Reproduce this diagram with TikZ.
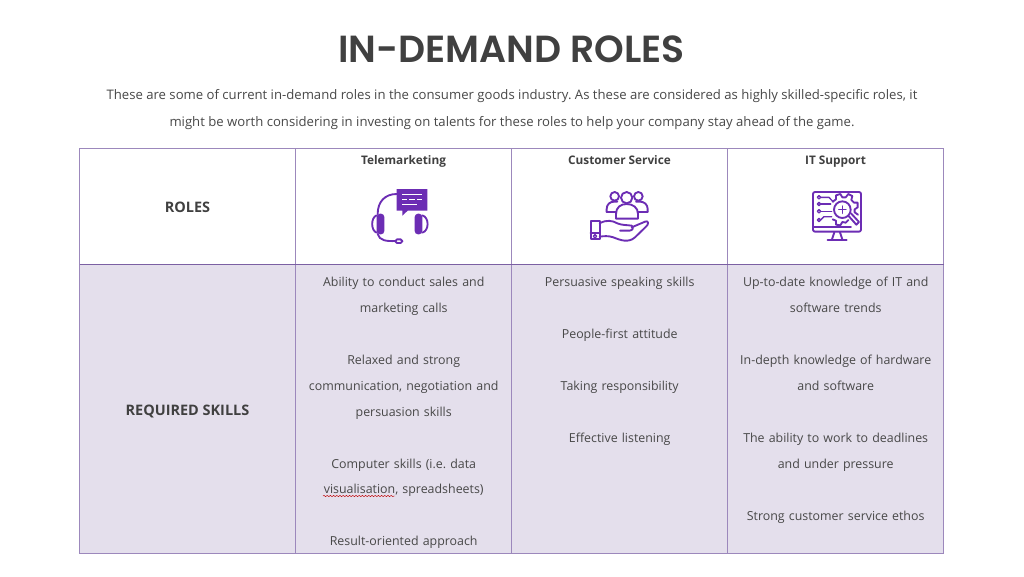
\documentclass[tikz,border=0pt]{standalone}
\usepackage{fontspec}
\setmainfont{Open Sans}
\newfontfamily\titlefont{Poppins SemiBold}[BoldFont={Poppins SemiBold}]
\usetikzlibrary{decorations.pathmorphing}
\definecolor{ink}{HTML}{484848}
\definecolor{titleink}{HTML}{404040}
\definecolor{rule}{HTML}{9C88BC}
\definecolor{hrule}{HTML}{7B60A3}
\definecolor{band}{HTML}{E4DFEC}
\definecolor{icon}{HTML}{6C2DB4}
\tikzset{
  cell/.style={inner sep=0pt,text=ink,font=\fontsize{9.3}{19.47}\selectfont,align=center,anchor=north,text width=150pt},
  bodyline/.style={inner sep=0pt,text=ink,font=\fontsize{9.85}{19.4}\selectfont,anchor=base},
  rowhead/.style={inner sep=0pt,text=titleink,font=\fontsize{10.85}{12}\selectfont\bfseries,anchor=base},
  colhead/.style={inner sep=0pt,text=titleink,font=\fontsize{8.85}{12}\selectfont\bfseries,anchor=base},
  ic/.style={draw=icon,line width=1.4pt,line cap=round,line join=round},
  icthin/.style={draw=icon,line width=1pt,line cap=round,line join=round},
  zoomA/.style={shift={(340,170)},x=0.25pt,y=-0.25pt},
  zoomB/.style={shift={(560,170)},x=0.25pt,y=-0.25pt},
  zoomC/.style={shift={(780,170)},x=0.25pt,y=-0.25pt}
}
\begin{document}
\frenchspacing
\begin{tikzpicture}[x=0.75pt,y=-0.75pt]
\useasboundingbox (0,0) rectangle (1024,576);
\fill[white] (0,0) rectangle (1024,576);
% table
\fill[band] (79.5,264) rectangle (943.5,553.5);
\draw[rule,line width=0.75pt] (79.5,148.5) rectangle (943.5,553.5);
\foreach \x in {295.5,511.5,727.5}{\draw[rule,line width=0.75pt] (\x,148.5) -- (\x,553.5);}
\draw[hrule,line width=0.75pt] (79.5,264) -- (943.5,264);
% title and intro
\node[inner sep=0pt,anchor=base,text=titleink,font=\fontsize{28.3}{30}\titlefont] (title) at (511.5,62) {IN-DEMAND ROLES};
\node[bodyline] (introa) at (512,99) {These are some of current in-demand roles in the consumer goods industry. As these are considered as highly skilled-specific roles, it};
\node[bodyline] (introb) at (512,126) {might be worth considering in investing on talents for these roles to help your company stay ahead of the game.};
% headers
\node[rowhead] (roles) at (187.5,212) {ROLES};
\node[rowhead] (skills) at (187.5,415) {REQUIRED SKILLS};
\node[colhead] (tele) at (403.5,164) {Telemarketing};
\node[colhead] (cust) at (619.5,164) {Customer Service};
\node[colhead] (its) at (835.5,164) {IT Support};
% cells
\node[cell] (c1) at (403.7,276.6) {Ability to conduct sales and\\marketing calls\\~\\Relaxed and strong\\communication, negotiation and\\persuasion skills\\~\\Computer skills (i.e. data\\visualisation, spreadsheets)\\~\\Result-oriented approach};
\node[cell] (c2) at (619.7,276.6) {Persuasive speaking skills\\~\\People-first attitude\\~\\Taking responsibility\\~\\Effective listening};
\node[cell] (c3) at (835.7,276.6) {Up-to-date knowledge of IT and\\software trends\\~\\In-depth knowledge of hardware\\and software\\~\\The ability to work to deadlines\\and under pressure\\~\\Strong customer service ethos};
% spell-check underline
\draw[red!75!black,line width=0.35pt,decorate,decoration={snake,amplitude=0.45pt,segment length=2.4pt}] (323,496) -- (395,496);
% icon 1: headset
\begin{scope}[zoomA]
\draw[ic] (113,132) .. controls (113,95) and (135,72) .. (170,72);
\fill[icon,rounded corners=2.5pt] (110,131) rectangle (133,193);
\fill[icon,rounded corners=2.5pt] (224,131) rectangle (247,193);
\draw[ic] (110,136) .. controls (92,142) and (92,182) .. (110,188);
\draw[ic] (247,136) .. controls (268,142) and (268,182) .. (247,188);
\draw[ic] (113,192) .. controls (118,212) and (140,214) .. (166,213);
\draw[ic,rounded corners=1.3pt,fill=white] (166,208) rectangle (187,219);
\fill[icon] (170,57) -- (262,57) -- (262,122) -- (203,122) -- (187,137) -- (187,122) -- (170,122) -- cycle;
\draw[white,line width=0.7pt] (186,74) -- (245,74);
\draw[white,line width=0.7pt,dash pattern=on 4pt off 1.5pt] (186,88) -- (245,88);
\draw[white,line width=0.7pt] (186,102) -- (232,102);
\end{scope}
% icon 2: hand and people
\begin{scope}[zoomB]
\draw[ic] (164,79) circle (13);
\draw[ic] (235,79) circle (13);
\draw[ic,fill=white] (200,83) circle (17);
\draw[ic] (140,125) -- (140,117) .. controls (140,103) and (150,95) .. (162,95) -- (172,95);
\draw[ic] (140,125) -- (168,125);
\draw[ic] (263,125) -- (263,117) .. controls (263,103) and (252,95) .. (240,95) -- (228,95);
\draw[ic] (263,125) -- (234,125);
\draw[ic] (168,146) -- (168,132) .. controls (168,112) and (182,102) .. (200,102) .. controls (218,102) and (234,112) .. (234,132) -- (234,146) -- cycle;
\draw[ic] (92,152) rectangle (119,208);
\draw[ic] (92,190) -- (119,190);
\draw[icthin] (105,199) circle (5);
\draw[ic] (119,160) .. controls (140,148) and (158,152) .. (172,160) .. controls (185,166) and (205,165) .. (215,167) .. controls (222,172) and (218,182) .. (208,182) -- (180,182);
\draw[ic] (215,172) -- (255,155) .. controls (265,150) and (268,162) .. (258,170) -- (225,202) .. controls (205,220) and (180,210) .. (160,202) .. controls (145,197) and (132,198) .. (119,200);
\end{scope}
% icon 3: monitor
\begin{scope}[zoomC]
\draw[ic,rounded corners=1.5pt] (99,66) rectangle (243,185);
\draw[ic] (103,171) -- (213,171);
\draw[ic] (163,187) -- (156,208);
\draw[ic] (180,187) -- (187,208);
\draw[ic] (143,209) -- (200,209);
% circuit
\foreach \y in {82,102,124,150}{\draw[icthin] (117,\y) circle (5);}
\draw[icthin] (122,82) -- (147,82) -- (160,96);
\draw[icthin] (122,102) -- (152,102);
\draw[icthin] (122,124) -- (155,124);
\draw[icthin] (122,150) -- (132,140) -- (155,140);
% gear
\draw[ic] (158,95) -- (168,88) -- (168,76) -- (181,72) -- (187,82) -- (197,82) -- (205,72) -- (217,78) -- (214,90) -- (222,98) -- (233,98) -- (233,112) -- (224,118) -- (224,127) -- (234,134);
\draw[ic] (158,148) -- (168,152) -- (168,164) -- (181,166) -- (187,156) -- (197,158) -- (205,150);
% magnifier
\draw[ic,fill=white] (187,119) circle (25);
\draw[icthin] (187,108) -- (187,130);
\draw[icthin] (176,119) -- (198,119);
\draw[ic] (205,137) -- (229,164) -- (237,156) -- (213,130);
\end{scope}
\end{tikzpicture}
\end{document}
